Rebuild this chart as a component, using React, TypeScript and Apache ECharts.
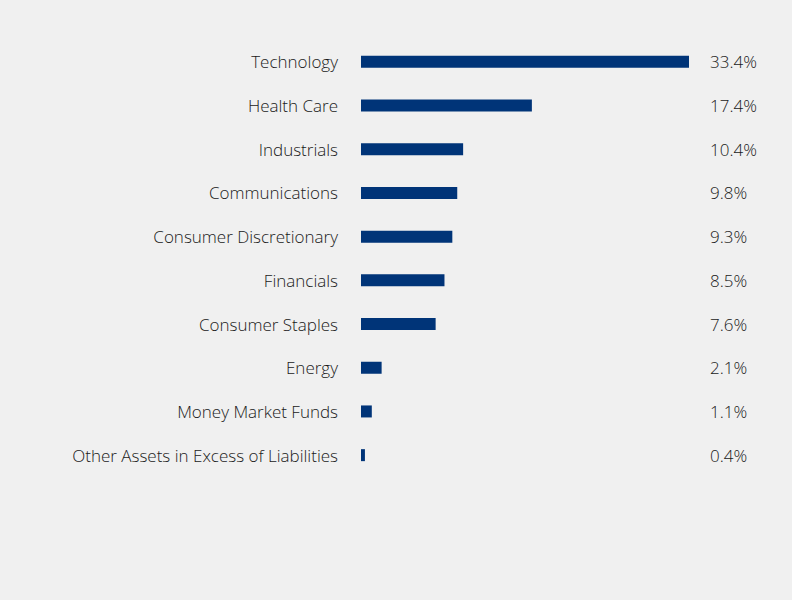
import React, { useEffect, useRef } from "react";
import * as echarts from "echarts";

const categories = [
  "Technology",
  "Health Care",
  "Industrials",
  "Communications",
  "Consumer Discretionary",
  "Financials",
  "Consumer Staples",
  "Energy",
  "Money Market Funds",
  "Other Assets in Excess of Liabilities",
];
const values = [33.4, 17.4, 10.4, 9.8, 9.3, 8.5, 7.6, 2.1, 1.1, 0.4];

export default function App() {
  const ref = useRef<HTMLDivElement>(null);
  useEffect(() => {
    document.body.style.margin = "0";
    document.body.style.background = "#f0f0f0";
    if (!ref.current) return;
    const chart = echarts.init(ref.current, null, { renderer: "svg" });
    const font = "'Open Sans', 'Noto Sans', sans-serif";
    chart.setOption({
      animation: false,
      backgroundColor: "#f0f0f0",
      grid: { left: 361, right: 103, top: 40, bottom: 123, containLabel: false },
      xAxis: {
        type: "value",
        min: 0,
        max: 33.4,
        show: false,
      },
      yAxis: [
        {
          type: "category",
          data: categories,
          inverse: true,
          axisLine: { show: false },
          axisTick: { show: false },
          axisLabel: {
            margin: 23,
            fontSize: 17,
            fontWeight: 300,
            color: "#1a1a1a",
            fontFamily: font,
          },
        },
        {
          type: "category",
          data: values.map((v) => v.toFixed(1) + "%"),
          inverse: true,
          position: "right",
          axisLine: { show: false },
          axisTick: { show: false },
          axisLabel: {
            margin: 21,
            fontSize: 17,
            fontWeight: 300,
            color: "#1a1a1a",
            fontFamily: font,
            align: "left",
          },
        },
      ],
      series: [
        {
          type: "bar",
          data: values,
          barWidth: 12,
          itemStyle: { color: "#003478" },
          yAxisIndex: 0,
        },
      ],
    });
    return () => chart.dispose();
  }, []);
  return (
    <div
      ref={ref}
      style={{ width: 792, height: 600, position: "fixed", left: 0, top: 0 }}
    />
  );
}
